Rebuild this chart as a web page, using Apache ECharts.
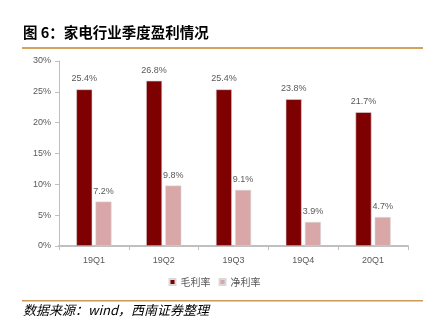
<!DOCTYPE html>
<html>
<head>
<meta charset="utf-8">
<script src="https://cdn.jsdelivr.net/npm/echarts@6/dist/echarts.min.js"></script>
<style>
  html, body { margin: 0; padding: 0; background: #fff; }
  #chart { width: 429px; height: 334px; }
</style>
</head>
<body>
<div id="chart"></div>
<script>
// Quarterly margins of the home-appliance industry (%)
const quarters = ['19Q1', '19Q2', '19Q3', '19Q4', '20Q1'];
const grossMargin = [25.4, 26.8, 25.4, 23.8, 21.7];
const netMargin = [7.2, 9.8, 9.1, 3.9, 4.7];
const yTicks = [0, 5, 10, 15, 20, 25, 30];

const titleText = '图 6：家电行业季度盈利情况';
const sourceText = '数据来源：wind，西南证券整理';

const chart = echarts.init(document.getElementById('chart'), null, { renderer: 'canvas' });

const labelStyle = {
  show: true,
  position: 'top',
  distance: 6,
  color: '#595959',
  fontSize: 9,
  fontFamily: 'Liberation Sans, Arial, sans-serif',
  formatter: p => p.value.toFixed(1) + '%'
};

chart.setOption({
  animation: false,
  backgroundColor: '#fff',
  grid: { left: 59, right: 21, top: 61, bottom: 88, containLabel: false },
  legend: {
    data: ['毛利率', '净利率'],
    bottom: 42,
    left: 'center',
    itemWidth: 6,
    itemHeight: 6,
    itemGap: 8,
    icon: 'rect',
    textStyle: { color: '#595959', fontSize: 10, fontFamily: 'Noto Sans CJK SC' }
  },
  xAxis: {
    type: 'category',
    data: quarters,
    axisLine: { lineStyle: { color: '#bfbfbf', width: 2 } },
    axisTick: { show: true, alignWithLabel: false, length: 4, lineStyle: { color: '#bfbfbf' } },
    axisLabel: { color: '#595959', fontSize: 9, margin: 10, fontFamily: 'Liberation Sans, Arial, sans-serif' }
  },
  yAxis: {
    type: 'value',
    min: yTicks[0],
    max: yTicks[yTicks.length - 1],
    interval: 5,
    axisLine: { show: true, lineStyle: { color: '#bfbfbf' } },
    axisTick: { show: true, length: 4, lineStyle: { color: '#bfbfbf' } },
    splitLine: { show: false },
    axisLabel: {
      color: '#595959', fontSize: 9, margin: 8,
      fontFamily: 'Liberation Sans, Arial, sans-serif',
      formatter: v => v + '%'
    }
  },
  series: [
    {
      name: '毛利率',
      type: 'bar',
      data: grossMargin,
      barWidth: 16,
      barGap: '20%',
      itemStyle: { color: '#7f0000', borderColor: '#d9d9d9', borderWidth: 0.6 },
      label: labelStyle
    },
    {
      name: '净利率',
      type: 'bar',
      data: netMargin,
      barWidth: 16,
      itemStyle: { color: '#d9a7a7', borderColor: '#d9d9d9', borderWidth: 0.6 },
      label: labelStyle
    }
  ],
  graphic: [
    {
      type: 'text', left: 23, top: 25,
      style: { text: titleText, fontSize: 14.5, fontWeight: 'bold', fill: '#000', fontFamily: 'Noto Sans CJK SC' }
    },
    {
      type: 'rect', shape: { x: 22, y: 47, width: 401, height: 2 },
      style: { fill: '#d4a25a' }
    },
    {
      type: 'rect', shape: { x: 22, y: 300, width: 401, height: 1.5 },
      style: { fill: '#c99a5a' }
    },
    {
      type: 'text', left: 23, top: 304,
      style: { text: sourceText, fontSize: 13, fontStyle: 'italic', fill: '#000', fontFamily: 'Noto Sans CJK SC' }
    }
  ]
});
</script>
</body>
</html>
